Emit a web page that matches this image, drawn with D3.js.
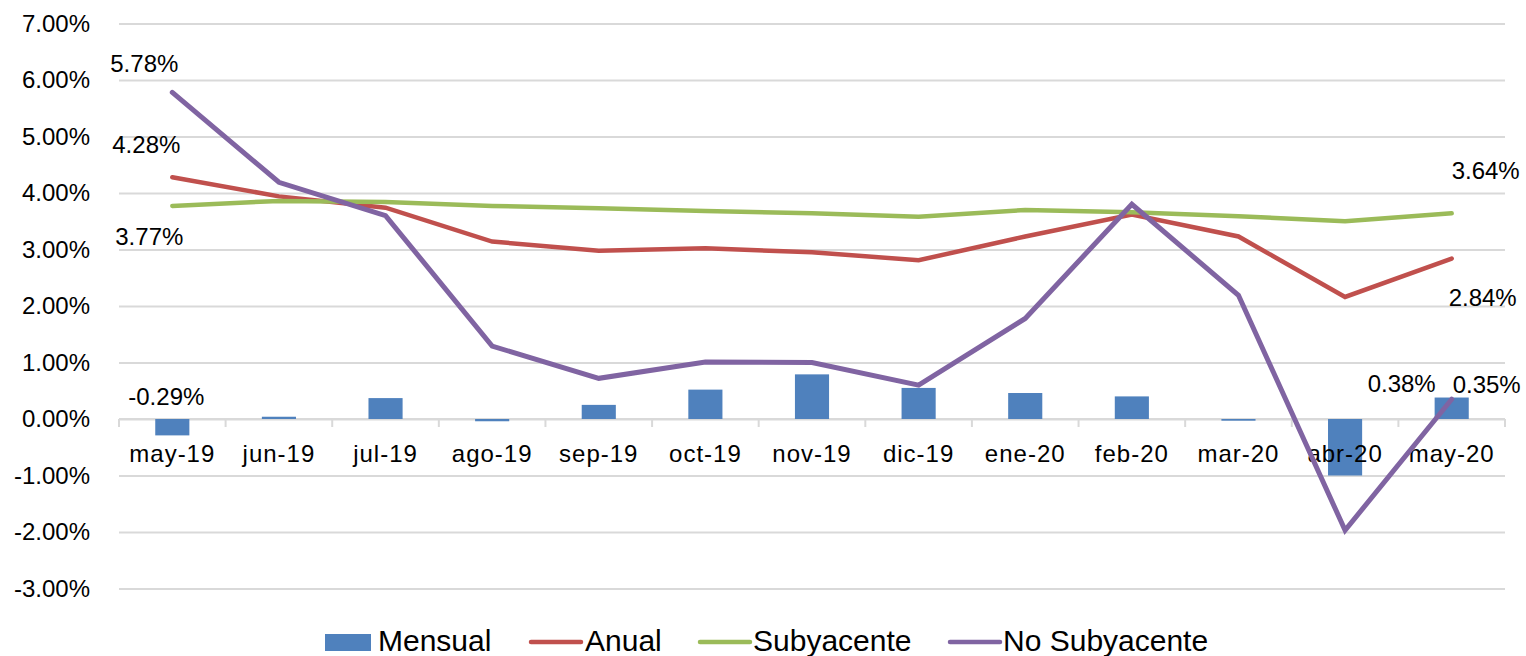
<!DOCTYPE html>
<html>
<head>
<meta charset="utf-8">
<script src="https://cdn.jsdelivr.net/npm/d3@7/dist/d3.min.js"></script>
<style>
  html, body { margin: 0; padding: 0; background: #fff; }
  svg { display: block; }
  text { font-family: "Liberation Sans", Arial, sans-serif; fill: #000; }
</style>
</head>
<body>
<svg id="chart" width="1526" height="656"></svg>
<script>
// Monthly inflation series (percent)
const categories = ["may-19","jun-19","jul-19","ago-19","sep-19","oct-19","nov-19","dic-19","ene-20","feb-20","mar-20","abr-20","may-20"];
const mensual      = [-0.29, 0.04, 0.37, -0.04, 0.25, 0.52, 0.79, 0.55, 0.46, 0.40, -0.03, -1.00, 0.38];
const anual        = [4.28, 3.94, 3.74, 3.14, 2.98, 3.02, 2.95, 2.81, 3.23, 3.62, 3.23, 2.16, 2.84];
const subyacente   = [3.77, 3.86, 3.84, 3.77, 3.73, 3.68, 3.64, 3.58, 3.70, 3.66, 3.59, 3.50, 3.64];
const noSubyacente = [5.78, 4.19, 3.60, 1.29, 0.72, 1.01, 1.00, 0.60, 1.78, 3.80, 2.19, -1.97, 0.35];
const yTicks = [-3, -2, -1, 0, 1, 2, 3, 4, 5, 6, 7];
const seriesNames = ["Mensual", "Anual", "Subyacente", "No Subyacente"];

const colors = { Mensual: "#4F81BD", Anual: "#C0504D", Subyacente: "#9BBB59", "No Subyacente": "#8064A2" };

const svg = d3.select("#chart");
const plotLeft = 119, plotRight = 1505, plotTop = 23.5, plotBottom = 588.5;

const x = d3.scaleBand().domain(categories).range([plotLeft, plotRight]).paddingInner(0.68).paddingOuter(0.34);
const y = d3.scaleLinear().domain([-3, 7]).range([plotBottom, plotTop]);
const cx = c => x(c) + x.bandwidth() / 2;
// Percent format with a plain hyphen for negatives
const pct = d3.formatLocale({ decimal: ".", thousands: ",", grouping: [3], currency: ["$", ""], minus: "-" }).format(".2%");

// Horizontal gridlines
const grid = svg.append("g").attr("transform", `translate(${plotLeft},0)`)
  .call(d3.axisLeft(y).tickValues(yTicks).tickSize(-(plotRight - plotLeft)).tickFormat(""));
grid.select(".domain").remove();
grid.selectAll("line").attr("stroke", "#D9D9D9").attr("stroke-width", 2);

// Y axis labels
const yAxis = svg.append("g").attr("transform", `translate(90,0)`)
  .call(d3.axisLeft(y).tickValues(yTicks).tickSize(0).tickPadding(0).tickFormat(v => pct(v / 100)));
yAxis.select(".domain").remove();
yAxis.selectAll("text").style("font-size", "24px").style("font-family", "Liberation Sans, Arial, sans-serif").attr("fill", "#000");

// Category axis along zero
const zeroY = y(0);
svg.append("line").attr("x1", plotLeft).attr("x2", plotRight).attr("y1", zeroY).attr("y2", zeroY)
  .attr("stroke", "#D9D9D9").attr("stroke-width", 2);
const boundaries = d3.range(categories.length + 1).map(i => plotLeft + i * x.step());
svg.append("g").selectAll("line").data(boundaries).join("line")
  .attr("x1", d => d).attr("x2", d => d).attr("y1", zeroY).attr("y2", zeroY + 8)
  .attr("stroke", "#D9D9D9").attr("stroke-width", 2);

// Bars (Mensual)
svg.append("g").selectAll("rect").data(categories).join("rect")
  .attr("x", c => x(c))
  .attr("width", x.bandwidth())
  .attr("y", (c, i) => Math.min(y(mensual[i]), zeroY))
  .attr("height", (c, i) => Math.abs(y(mensual[i]) - zeroY))
  .attr("fill", colors.Mensual);

const xAxis = svg.append("g").attr("transform", `translate(0,${zeroY})`)
  .call(d3.axisBottom(x).tickSize(0));
xAxis.select(".domain").remove();
xAxis.selectAll("text").attr("y", 42.5).attr("dy", 0)
  .style("font-size", "24px").style("font-family", "Liberation Sans, Arial, sans-serif")
  .attr("fill", "#000").attr("letter-spacing", "1");

// Lines
const line = d3.line().x((d, i) => cx(categories[i])).y(d => y(d));
[["Anual", anual], ["Subyacente", subyacente], ["No Subyacente", noSubyacente]].forEach(([name, vals]) => {
  svg.append("path").datum(vals).attr("d", line)
    .attr("fill", "none").attr("stroke", colors[name])
    .attr("stroke-width", name === "No Subyacente" ? 5 : 4.5)
    .attr("stroke-linecap", "round").attr("stroke-linejoin", "miter");
});

// Data labels at the first and last month of each series
const labelSpecs = [
  { vals: noSubyacente, i: 0, dx: -28, dy: -20, bar: false },
  { vals: anual, i: 0, dx: -26, dy: -24, bar: false },
  { vals: subyacente, i: 0, dx: -23, dy: 39, bar: false },
  { vals: mensual, i: 0, dx: -6, dy: -14, bar: true },
  { vals: subyacente, i: 12, dx: 34, dy: -34, bar: false },
  { vals: anual, i: 12, dx: 31, dy: 47, bar: false },
  { vals: mensual, i: 12, dx: -50, dy: -6, bar: true },
  { vals: noSubyacente, i: 12, dx: 35, dy: -6, bar: false }
];
svg.append("g").selectAll("text").data(labelSpecs).join("text")
  .attr("x", d => cx(categories[d.i]) + d.dx)
  .attr("y", d => (d.bar ? Math.min(y(d.vals[d.i]), zeroY) : y(d.vals[d.i])) + d.dy)
  .attr("text-anchor", "middle")
  .style("font-size", "24px")
  .text(d => pct(d.vals[d.i] / 100));

// Legend
const legend = svg.append("g");
const legendItems = [
  { name: "Mensual", sx: 325, tx: 378 },
  { name: "Anual", sx: 531, tx: 585 },
  { name: "Subyacente", sx: 700, tx: 753 },
  { name: "No Subyacente", sx: 950, tx: 1003 }
];
legendItems.forEach(it => {
  if (it.name === "Mensual") {
    legend.append("rect").attr("x", it.sx).attr("y", 634).attr("width", 46).attr("height", 17).attr("fill", colors[it.name]);
  } else {
    legend.append("line").attr("x1", it.sx).attr("x2", it.sx + 50).attr("y1", 642).attr("y2", 642)
      .attr("stroke", colors[it.name]).attr("stroke-width", 4.5).attr("stroke-linecap", "round");
  }
  legend.append("text").attr("x", it.tx).attr("y", 651).style("font-size", "30px").text(it.name);
});
</script>
</body>
</html>
